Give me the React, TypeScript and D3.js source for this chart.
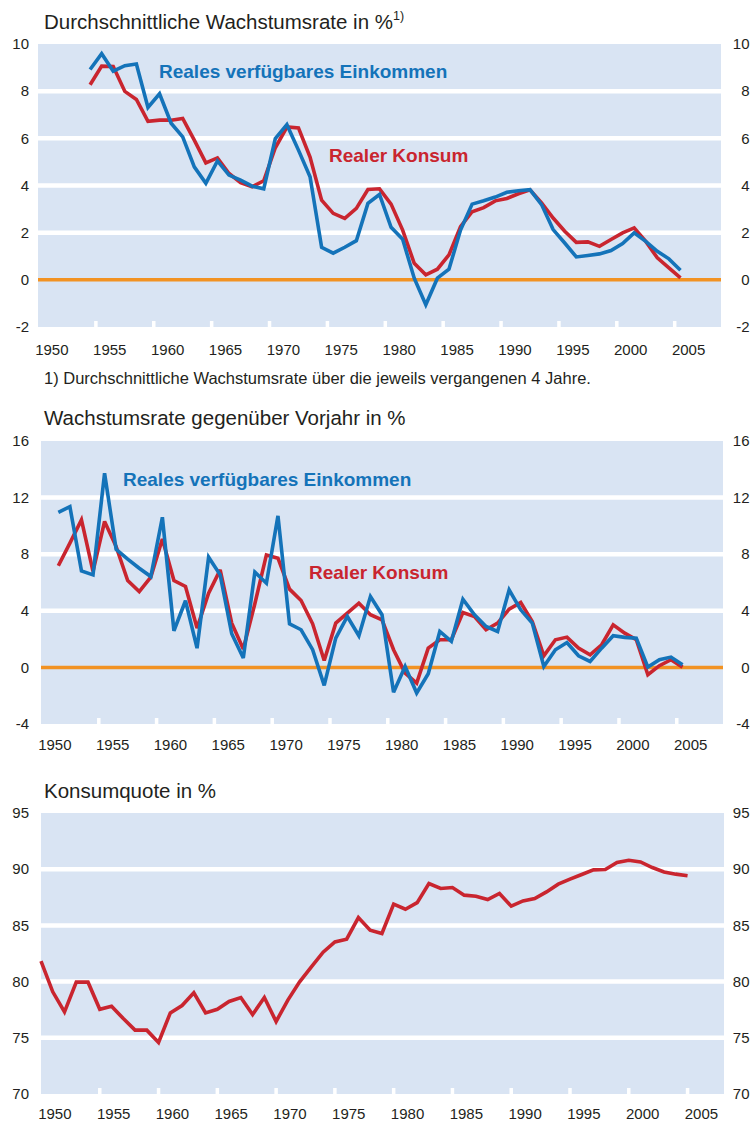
import React, { useEffect, useRef } from 'react';
import * as d3 from 'd3';

const W = 751;
const H = 1124;

const BG = '#d9e4f3';
const BLUE = '#1473b9';
const RED = '#c9252f';
const ORANGE = '#f29222';
const TEXT = '#231f20';
const FONT = '"Liberation Sans", Arial, Helvetica, sans-serif';

// Durchschnittliche Wachstumsrate ueber 4 Jahre, 1954-2005
const avgYears = d3.range(1954, 2006);
const avgEinkommen = [
  8.92, 9.59, 8.85, 9.08, 9.15, 7.31, 7.89, 6.64, 6.06, 4.79,
  4.09, 5.04, 4.44, 4.23, 3.97, 3.86, 5.99, 6.58, 5.5, 4.37,
  1.38, 1.13, 1.38, 1.66, 3.24, 3.62, 2.23, 1.72, 0.07, -1.06,
  0.07, 0.45, 2.11, 3.21, 3.35, 3.51, 3.71, 3.78, 3.82, 3.19,
  2.13, 1.56, 0.97, 1.03, 1.1, 1.24, 1.54, 1.99, 1.63, 1.21,
  0.89, 0.41,
];
const avgKonsum = [
  8.27, 9.06, 9.05, 7.99, 7.65, 6.72, 6.77, 6.77, 6.84, 5.92,
  4.96, 5.17, 4.51, 4.12, 3.95, 4.2, 5.6, 6.48, 6.44, 5.21,
  3.38, 2.82, 2.61, 3.03, 3.83, 3.86, 3.21, 2.11, 0.7, 0.21,
  0.45, 1.06, 2.25, 2.89, 3.06, 3.35, 3.45, 3.65, 3.82, 3.26,
  2.62, 2.06, 1.59, 1.61, 1.42, 1.71, 1.99, 2.2, 1.63, 0.93,
  0.51, 0.08,
];

// Wachstumsrate gegenueber Vorjahr, 1951-2005
const yoyYears = d3.range(1951, 2006);
const yoyEinkommen = [
  10.96, 11.36, 6.82, 6.54, 13.72, 8.35, 7.65, 7.01, 6.42, 10.61,
  2.59, 4.71, 1.36, 7.79, 6.54, 2.38, 0.66, 6.73, 5.95, 10.71,
  3.08, 2.66, 1.25, -1.27, 2.07, 3.6, 2.24, 5.01, 3.72, -1.76,
  0.07, -1.81, -0.45, 2.54, 1.84, 4.82, 3.72, 2.89, 2.54, 5.48,
  4.07, 3.13, 0.07, 1.25, 1.76, 0.82, 0.42, 1.36, 2.24, 2.12,
  2.07, 0.02, 0.54, 0.73, 0.19,
];
const yoyKonsum = [
  7.18, 8.78, 10.42, 6.78, 10.31, 8.54, 6.14, 5.36, 6.38, 9.08,
  6.14, 5.72, 2.78, 5.25, 6.89, 3.13, 1.3, 4.5, 7.95, 7.72,
  5.53, 4.73, 3.08, 0.49, 3.13, 3.84, 4.54, 3.72, 3.36, 1.25,
  -0.4, -1.11, 1.36, 1.95, 1.95, 3.88, 3.6, 2.66, 3.13, 4.12,
  4.59, 3.25, 0.82, 1.95, 2.14, 1.36, 0.89, 1.6, 3.01, 2.42,
  1.95, -0.52, 0.12, 0.54, 0.02,
];

// Konsumquote, 1950-2005
const quoteYears = d3.range(1950, 2006);
const konsumquote = [
  81.82, 79.09, 77.31, 79.95, 79.95, 77.54, 77.81, 76.71, 75.68, 75.68,
  74.58, 77.22, 77.87, 79.0, 77.22, 77.54, 78.23, 78.58, 77.07, 78.58,
  76.45, 78.35, 79.98, 81.31, 82.62, 83.53, 83.77, 85.7, 84.57, 84.28,
  86.89, 86.44, 87.03, 88.72, 88.28, 88.37, 87.69, 87.6, 87.3, 87.84,
  86.71, 87.18, 87.39, 87.98, 88.67, 89.11, 89.53, 89.94, 89.97, 90.59,
  90.8, 90.65, 90.15, 89.76, 89.56, 89.41,
];

const xTickYears = [1950, 1955, 1960, 1965, 1970, 1975, 1980, 1985, 1990, 1995, 2000, 2005];
const avgTicks = [-2, 0, 2, 4, 6, 8, 10];
const yoyTicks = [-4, 0, 4, 8, 12, 16];
const quoteTicks = [70, 75, 80, 85, 90, 95];

const panels = [
  {
    left: 38, right: 721, top: 44, bottom: 327,
    xDomain: [1950, 2009], yDomain: [-2, 10], shift: 0.5,
    ticks: avgTicks, grid: [2, 4, 6, 8], zero: true, labelGap: 28,
    series: [
      { years: avgYears, values: avgKonsum, color: RED },
      { years: avgYears, values: avgEinkommen, color: BLUE },
    ],
  },
  {
    left: 41, right: 723, top: 441, bottom: 724,
    xDomain: [1950, 2009], yDomain: [-4, 16], shift: 0.5,
    ticks: yoyTicks, grid: [4, 8, 12], zero: true, labelGap: 26,
    series: [
      { years: yoyYears, values: yoyKonsum, color: RED },
      { years: yoyYears, values: yoyEinkommen, color: BLUE },
    ],
  },
  {
    left: 41, right: 724, top: 813, bottom: 1094,
    xDomain: [1950, 2008.1], yDomain: [70, 95], shift: 0,
    ticks: quoteTicks, grid: [75, 80, 85, 90], zero: false, labelGap: 25,
    series: [{ years: quoteYears, values: konsumquote, color: RED }],
  },
];

function drawPanel(svg, p) {
  const x = d3.scaleLinear().domain(p.xDomain).range([p.left, p.right]);
  const y = d3.scaleLinear().domain(p.yDomain).range([p.bottom, p.top]);
  const g = svg.append('g');

  g.append('rect')
    .attr('x', p.left)
    .attr('y', p.top)
    .attr('width', p.right - p.left)
    .attr('height', p.bottom - p.top)
    .attr('fill', BG);

  g.selectAll('.grid')
    .data(p.grid)
    .enter()
    .append('line')
    .attr('x1', p.left)
    .attr('x2', p.right)
    .attr('y1', (d) => y(d))
    .attr('y2', (d) => y(d))
    .attr('stroke', '#fff')
    .attr('stroke-width', 4.5);

  if (p.zero) {
    g.append('line')
      .attr('x1', p.left)
      .attr('x2', p.right)
      .attr('y1', y(0))
      .attr('y2', y(0))
      .attr('stroke', ORANGE)
      .attr('stroke-width', 3.5);
  }

  // little white tick marks at the bottom edge
  g.selectAll('.tick')
    .data(xTickYears.filter((d) => d > 1950))
    .enter()
    .append('rect')
    .attr('x', (d) => x(d) - 1.75)
    .attr('y', p.bottom - 6)
    .attr('width', 3.5)
    .attr('height', 6)
    .attr('fill', '#fff');

  g.selectAll('.xlab')
    .data(xTickYears)
    .enter()
    .append('text')
    .attr('x', (d) => x(d) - 2.8)
    .attr('y', p.bottom + p.labelGap)
    .attr('font-size', 15)
    .attr('fill', TEXT)
    .text((d) => d);

  [29, 749.5].forEach((xPos) => {
    g.selectAll(null)
      .data(p.ticks)
      .enter()
      .append('text')
      .attr('x', xPos)
      .attr('y', (d) => y(d))
      .attr('dy', '0.35em')
      .attr('text-anchor', 'end')
      .attr('font-size', 15)
      .attr('fill', TEXT)
      .text((d) => d);
  });

  const line = d3
    .line()
    .x((d) => x(d[0] + p.shift))
    .y((d) => y(d[1]));

  p.series.forEach((s) => {
    g.append('path')
      .datum(s.years.map((yr, i) => [yr, s.values[i]]))
      .attr('d', line)
      .attr('fill', 'none')
      .attr('stroke', s.color)
      .attr('stroke-width', 3.6)
      .attr('stroke-linejoin', 'miter')
      .attr('stroke-miterlimit', 3);
  });
}

const App = () => {
  const chartRef = useRef(null);

  useEffect(() => {
    const svg = d3
      .select(chartRef.current)
      .append('svg')
      .attr('width', W)
      .attr('height', H)
      .style('position', 'absolute')
      .style('left', 0)
      .style('top', 0)
      .style('background', '#fff')
      .attr('font-family', FONT);

    panels.forEach((p) => drawPanel(svg, p));

    // titles
    const t1 = svg
      .append('text')
      .attr('x', 44)
      .attr('y', 29)
      .attr('font-size', 20.5)
      .attr('fill', TEXT);
    t1.append('tspan').text('Durchschnittliche Wachstumsrate in %');
    t1.append('tspan').attr('font-size', 12.5).attr('dy', -9).text('1)');

    svg
      .append('text')
      .attr('x', 44)
      .attr('y', 384)
      .attr('font-size', 16.5)
      .attr('fill', TEXT)
      .text('1) Durchschnittliche Wachstumsrate über die jeweils vergangenen 4 Jahre.');

    svg
      .append('text')
      .attr('x', 44)
      .attr('y', 425)
      .attr('font-size', 20.5)
      .attr('fill', TEXT)
      .text('Wachstumsrate gegenüber Vorjahr in %');

    svg
      .append('text')
      .attr('x', 44)
      .attr('y', 798)
      .attr('font-size', 20.5)
      .attr('fill', TEXT)
      .text('Konsumquote in %');

    // series labels inside the plots
    const labels = [
      { text: 'Reales verfügbares Einkommen', x: 159, y: 78, color: BLUE },
      { text: 'Realer Konsum', x: 329, y: 162, color: RED },
      { text: 'Reales verfügbares Einkommen', x: 123, y: 486, color: BLUE },
      { text: 'Realer Konsum', x: 309, y: 579, color: RED },
    ];
    svg
      .selectAll('.serieslabel')
      .data(labels)
      .enter()
      .append('text')
      .attr('x', (d) => d.x)
      .attr('y', (d) => d.y)
      .attr('font-size', 19)
      .attr('font-weight', 'bold')
      .attr('fill', (d) => d.color)
      .text((d) => d.text);

    return () => {
      d3.select(chartRef.current).selectAll('svg').remove();
    };
  }, []);

  return <div ref={chartRef}></div>;
};

export default App;
